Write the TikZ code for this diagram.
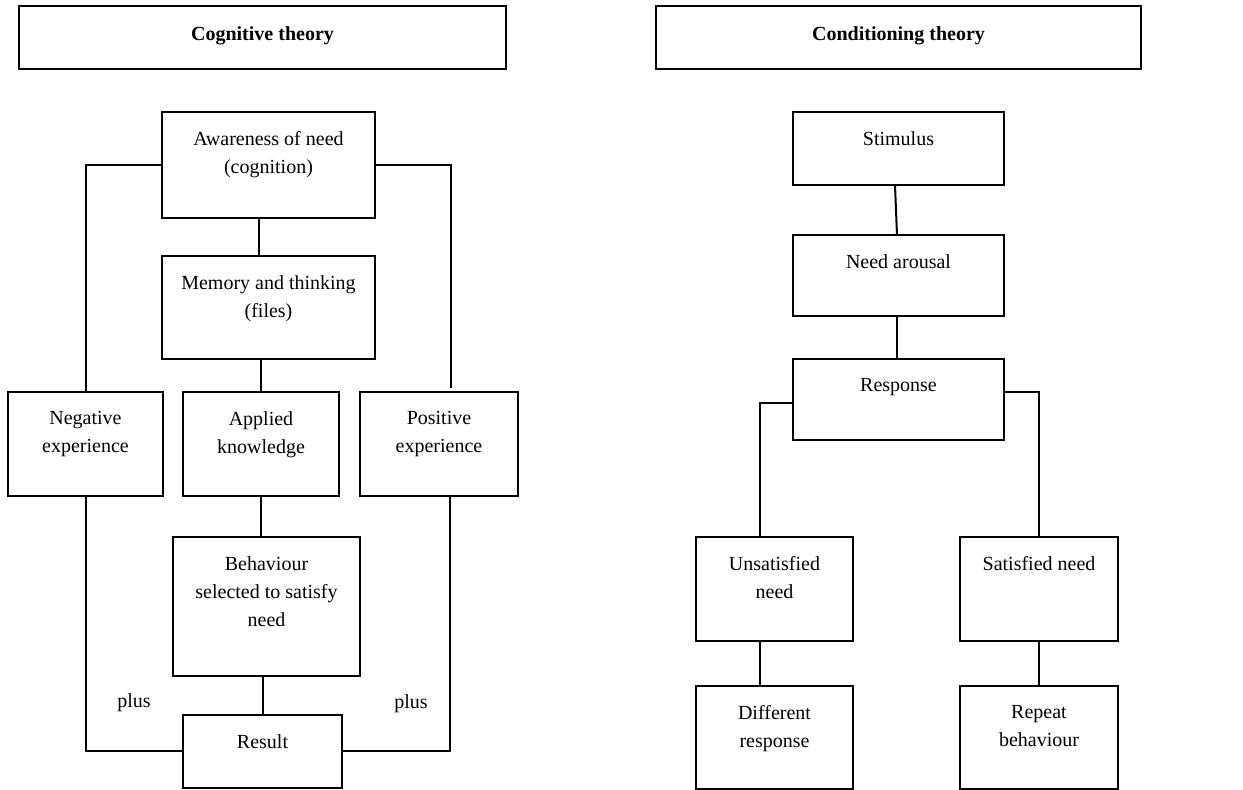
\documentclass[tikz,border=0pt]{standalone}
\usepackage{fontspec}
\setmainfont{Liberation Serif}
\usepackage{tikz}
\usetikzlibrary{positioning, calc}

\tikzset{
    box/.style 2 args={draw, line width=1pt, minimum width=#1*0.5pt, minimum height=#2*0.5pt, inner sep=0pt, outer sep=0pt},
    txt/.style={anchor=north, align=center, inner sep=0pt, yshift=-9.5pt, font=\fontsize{10}{14}\selectfont},
    head/.style={txt, yshift=-0.5pt, font=\fontsize{10}{14}\selectfont\bfseries},
    link/.style={line width=1pt}
}

\begin{document}
\begin{tikzpicture}[x=0.5pt, y=-0.5pt]
        \useasboundingbox (0,0) rectangle (1243,790);

        \node[box={487}{63}, label={[head]north:Cognitive theory}] (cog) at (262.5,37.5) {};
        \node[box={485}{63}, label={[head]north:Conditioning theory}] (cond) at (898.5,37.5) {};

        \node[box={213}{106}, label={[txt]north:{Awareness of need\\(cognition)}}] (aware) at (268.5,165) {};
        \node[box={213}{103}, label={[txt]north:{Memory and thinking\\(files)}}] (mem) at (268.5,307.5) {};
        \node[box={155}{104}, label={[txt]north:{Negative\\experience}}] (neg) at (85.5,444) {};
        \node[box={156}{104}, label={[txt]north:{Applied\\knowledge}}] (appl) at (261,444) {};
        \node[box={158}{104}, label={[txt]north:{Positive\\experience}}] (pos) at (439,444) {};
        \node[box={187}{139}, label={[txt]north:{Behaviour\\selected to satisfy\\need}}] (beh) at (266.5,606.5) {};
        \node[box={159}{73}, label={[txt]north:Result}] (res) at (262.5,751.5) {};
        \node[font=\fontsize{10}{14}\selectfont] (plusl) at (134,703) {plus};
        \node[font=\fontsize{10}{14}\selectfont] (plusr) at (411,704) {plus};

        \node[box={211}{73}, label={[txt]north:Stimulus}] (stim) at (898.5,148.5) {};
        \node[box={211}{81}, label={[txt]north:Need arousal}] (need) at (898.5,275.5) {};
        \node[box={211}{81}, label={[txt]north:Response}] (resp) at (898.5,399.5) {};
        \node[box={157}{104}, label={[txt]north:{Unsatisfied\\need}}] (unsat) at (774.5,589) {};
        \node[box={158}{104}, label={[txt]north:Satisfied need}] (sat) at (1039,589) {};
        \node[box={157}{103}, label={[txt]north:{Different\\response}}] (diff) at (774.5,737.5) {};
        \node[box={158}{103}, label={[txt]north:{Repeat\\behaviour}}] (rep) at (1039,737.5) {};

        \draw[link] (aware.west) -| (neg.north);
        \draw[link] (aware.east) -| ([xshift=6pt,yshift=2pt]pos.north);
        \draw[link] ([xshift=-4.75pt]aware.south) -- ([xshift=-4.75pt]mem.north);
        \draw[link] (appl.north |- mem.south) -- (appl.north);
        \draw[link] (appl.south) -- (appl.south |- beh.north);
        \draw[link] (res.north |- beh.south) -- (res.north);
        \draw[link] (neg.south) |- (res.west);
        \draw[link] ([xshift=5.5pt]pos.south) |- (res.east);

        \draw[link] ([xshift=-1.75pt]stim.south) -- ([xshift=-0.75pt]need.north);
        \draw[link] ([xshift=-0.75pt]need.south) -- ([xshift=-0.75pt]resp.north);
        \draw[link] ([yshift=-1.75pt]resp.west) -| ([xshift=-7.25pt]unsat.north);
        \draw[link] ([yshift=3.75pt]resp.east) -| (sat.north);
        \draw[link] ([xshift=-7.25pt]unsat.south) -- ([xshift=-7.25pt]diff.north);
        \draw[link] (sat.south) -- (rep.north);
    \end{tikzpicture}
\end{document}
